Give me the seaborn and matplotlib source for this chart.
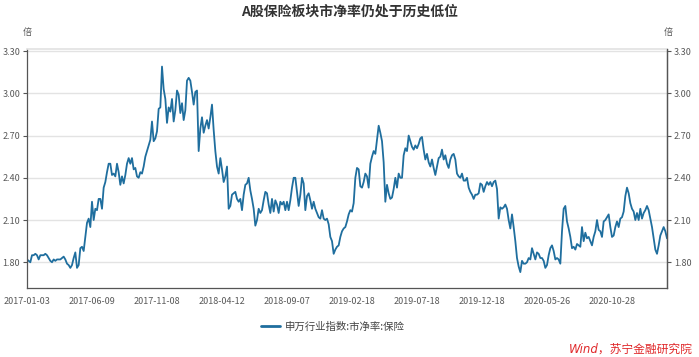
import numpy as np
import pandas as pd
import matplotlib
matplotlib.use("Agg")
import matplotlib.pyplot as plt
import seaborn as sns

# Text
title = "A股保险板块市净率仍处于历史低位"
series_name = "申万行业指数:市净率:保险"
unit = "倍"
source = "Wind，苏宁金融研究院"

# x axis: trading-day samples, one label every 39 samples
tick_labels = ["2017-01-03", "2017-06-09", "2017-11-08", "2018-04-12", "2018-09-07",
               "2019-02-18", "2019-07-18", "2019-12-18", "2020-05-26", "2020-10-28"]
y_ticks = [1.80, 2.10, 2.40, 2.70, 3.00, 3.30]

# P/B values, in roughly year-long chunks
pb_2017 = [1.82, 1.81, 1.80, 1.85, 1.85, 1.86, 1.85, 1.82, 1.85, 1.85,
           1.85, 1.86, 1.85, 1.83, 1.81, 1.80, 1.82, 1.81, 1.82, 1.82,
           1.82, 1.83, 1.84, 1.82, 1.79, 1.78, 1.76, 1.78, 1.83, 1.87,
           1.76, 1.78, 1.90, 1.91, 1.88, 1.98, 2.08, 2.11, 2.05, 2.23,
           2.10, 2.18, 2.17, 2.25, 2.25, 2.18, 2.33, 2.37, 2.44, 2.50,
           2.50, 2.42, 2.43, 2.41, 2.50, 2.44, 2.35, 2.41, 2.36, 2.42,
           2.50, 2.54, 2.50, 2.54, 2.46, 2.47, 2.41, 2.40, 2.44, 2.43,
           2.48, 2.55, 2.59, 2.63, 2.67, 2.80, 2.66, 2.68, 2.73, 2.89,
           2.90, 3.19, 3.03, 2.96, 2.79, 2.90, 2.87, 2.96, 2.80, 2.88,
           3.02, 2.99, 2.86, 2.93, 2.81, 2.88, 3.09, 3.11, 3.09]
pb_2018 = [3.01, 2.92, 3.01, 3.02, 2.59, 2.75, 2.83, 2.72, 2.77,
           2.81, 2.75, 2.83, 2.92, 2.74, 2.59, 2.48, 2.43, 2.54, 2.46,
           2.37, 2.41, 2.48, 2.18, 2.20, 2.28, 2.29, 2.30, 2.25, 2.23,
           2.25, 2.17, 2.28, 2.35, 2.36, 2.40, 2.31, 2.25, 2.18, 2.06,
           2.10, 2.18, 2.15, 2.17, 2.24, 2.30, 2.29, 2.21, 2.15, 2.25,
           2.16, 2.24, 2.21, 2.15, 2.23, 2.21, 2.23, 2.17, 2.23, 2.17,
           2.24, 2.33, 2.40, 2.40, 2.30, 2.20, 2.28, 2.40, 2.36, 2.17,
           2.27, 2.29, 2.24, 2.18, 2.23, 2.18, 2.15, 2.12, 2.11, 2.17,
           2.11, 2.10, 2.11, 2.07, 1.98, 1.95, 1.86, 1.89, 1.91, 1.92,
           1.98, 2.02, 2.04, 2.05, 2.09, 2.14, 2.17]
pb_2019 = [2.16, 2.22, 2.40, 2.47, 2.46, 2.34, 2.33, 2.37, 2.43,
           2.41, 2.33, 2.50, 2.55, 2.59, 2.57, 2.67, 2.77, 2.72, 2.66,
           2.51, 2.23, 2.35, 2.29, 2.25, 2.26, 2.32, 2.40, 2.33, 2.43,
           2.40, 2.40, 2.56, 2.61, 2.59, 2.70, 2.66, 2.62, 2.60, 2.63,
           2.61, 2.64, 2.68, 2.69, 2.60, 2.53, 2.57, 2.51, 2.48, 2.53,
           2.47, 2.42, 2.48, 2.54, 2.55, 2.60, 2.53, 2.56, 2.50, 2.47,
           2.53, 2.56, 2.57, 2.53, 2.43, 2.41, 2.40, 2.43, 2.38, 2.38,
           2.40, 2.33, 2.30, 2.28, 2.25, 2.28, 2.28, 2.29, 2.36, 2.35,
           2.30, 2.34, 2.37, 2.35, 2.37, 2.34, 2.37, 2.38, 2.32, 2.11,
           2.19, 2.18, 2.19, 2.21, 2.18, 2.10, 2.04]
pb_2020 = [2.14, 2.05, 1.95, 1.83, 1.77, 1.73, 1.81, 1.79, 1.79,
           1.80, 1.83, 1.82, 1.90, 1.86, 1.82, 1.87, 1.86, 1.83, 1.83,
           1.81, 1.76, 1.78, 1.85, 1.90, 1.92, 1.88, 1.82, 1.83, 1.82,
           1.79, 2.02, 2.18, 2.20, 2.09, 2.04, 1.98, 1.90, 1.91, 1.89,
           1.93, 1.92, 1.91, 2.05, 1.95, 2.01, 1.97, 1.98, 1.95, 1.92,
           1.98, 2.02, 2.10, 2.03, 2.02, 1.98, 2.09, 2.10, 2.12, 2.14,
           2.05, 1.98, 1.99, 2.05, 2.09, 2.05, 2.11, 2.12, 2.16, 2.27,
           2.33, 2.29, 2.22, 2.18, 2.16, 2.10, 2.15, 2.10, 2.18, 2.11,
           2.15, 2.17, 2.20, 2.17, 2.11, 2.05, 1.97, 1.89, 1.86, 1.92,
           1.99, 2.02, 2.05, 2.02, 1.97]

pb = pb_2017 + pb_2018 + pb_2019 + pb_2020
df = pd.DataFrame({"t": np.arange(len(pb)), "pb": pb})
tick_step = 39

sns.set_theme(style="white")
plt.rcParams["font.family"] = ["Noto Sans CJK SC", "DejaVu Sans"]

fig = plt.figure(figsize=(6.99, 3.57), dpi=100)
ax = fig.add_axes([27 / 699, 1 - 288.3 / 357, 640 / 699, (288.3 - 49) / 357])

line_color = "#1f6e9e"
axis_color = "#555555"
text_color = "#595959"

sns.lineplot(data=df, x="t", y="pb", ax=ax, color=line_color, linewidth=1.3, legend=False)

ax.set_xlim(0, len(pb) - 1)
ax.set_ylim(1.615, 3.315)
ax.set_yticks(y_ticks)
ax.set_yticklabels([f"{v:.2f}" for v in y_ticks])
ax.set_xticks(np.arange(len(tick_labels)) * tick_step)
ax.set_xticklabels(tick_labels)
ax.set_xlabel("")
ax.set_ylabel("")
ax.grid(axis="y", color="#e3e3e3", linewidth=1.0)
ax.set_axisbelow(True)

for side in ["left", "bottom", "right"]:
    ax.spines[side].set_color(axis_color)
    ax.spines[side].set_linewidth(0.9)
ax.spines["top"].set_color("#e3e3e3")
ax.tick_params(axis="both", direction="out", length=3, width=0.8, color=axis_color,
               labelsize=6.5, labelcolor=text_color, pad=2)
ax.tick_params(axis="x", pad=3)

ax2 = ax.twinx()
ax2.set_ylim(ax.get_ylim())
ax2.set_yticks(y_ticks)
ax2.set_yticklabels([f"{v:.2f}" for v in y_ticks])
for side in ["left", "bottom", "right", "top"]:
    ax2.spines[side].set_visible(False)
ax2.spines["right"].set_visible(True)
ax2.spines["right"].set_color(axis_color)
ax2.spines["right"].set_linewidth(0.9)
ax2.tick_params(axis="y", direction="out", length=3, width=0.8, color=axis_color,
                labelsize=6.5, labelcolor=text_color, pad=2)

fig.text(27 / 699, 1 - 32 / 357, unit, ha="center", va="center", fontsize=6.5, color=text_color)
fig.text(668 / 699, 1 - 32 / 357, unit, ha="center", va="center", fontsize=6.5, color=text_color)

fig.text(0.5, 1 - 12 / 357, title, ha="center", va="center", fontsize=10,
         fontweight="bold", color="#333333")

handle = plt.Line2D([], [], color=line_color, linewidth=2)
fig.legend([handle], [series_name], loc="center", bbox_to_anchor=(333 / 699, 1 - 327 / 357),
           frameon=False, fontsize=7.5, handlelength=1.8, handletextpad=0.5,
           labelcolor="#444444")

fig.text(693 / 699, 1 - 349 / 357, source, ha="right", va="center", fontsize=8.5,
         color="#e0292b", style="italic", family=["DejaVu Sans", "Noto Sans CJK SC"])

fig.savefig("out.png", dpi=100)
